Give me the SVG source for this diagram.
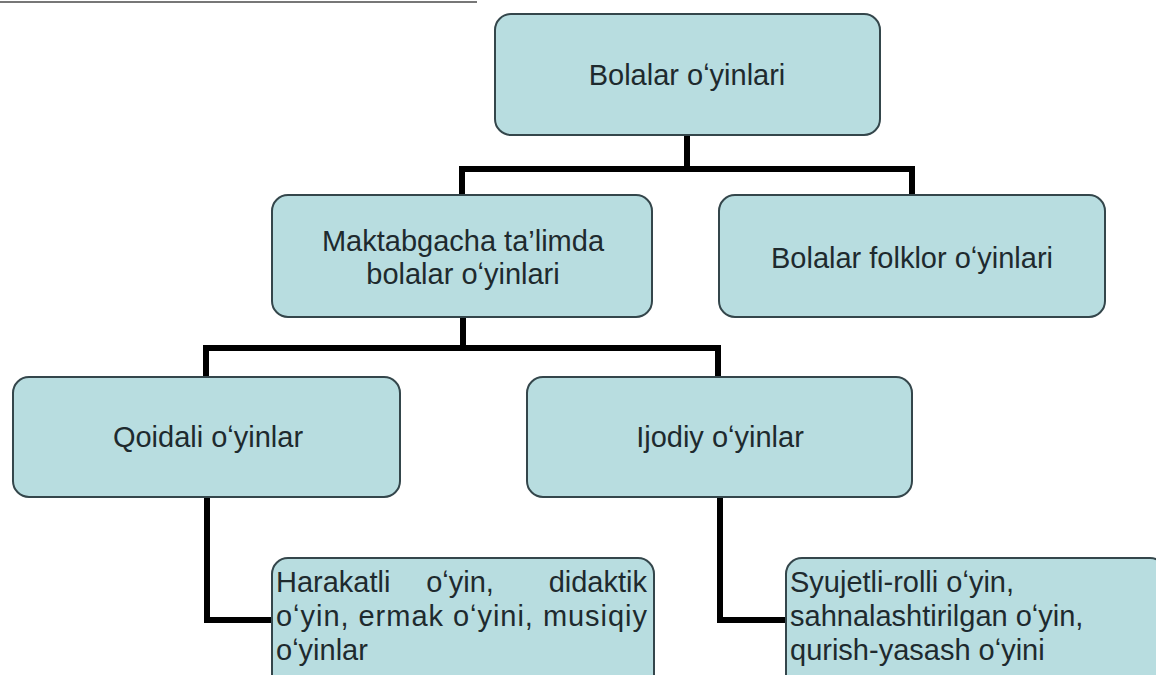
<svg xmlns="http://www.w3.org/2000/svg" width="1156" height="675" viewBox="0 0 1156 675">
<style>
.box{fill:#b8dde0;stroke:#34464b;stroke-width:2}
.t{font-family:"Liberation Sans",Arial,sans-serif;font-size:29px;fill:#1e2a2e}
.c{text-anchor:middle}
.conn{fill:none;stroke:#000;stroke-width:6;stroke-linejoin:miter}
</style>
<rect width="1156" height="675" fill="#fff"/>
<line x1="0" y1="2" x2="477" y2="2" stroke="#777" stroke-width="2"/>
<g id="connectors">
<path class="conn" d="M687 135V169M462 195V169H912V195"/>
<path class="conn" d="M463 317V348M206 377V348H718V377"/>
<path class="conn" d="M207 497V620H272"/>
<path class="conn" d="M720 497V620H786"/>
</g>
<g id="n1">
<rect class="box" x="495" y="14" width="385" height="121" rx="16"/>
<text class="t c" x="687" y="85">Bolalar oʻyinlari</text>
</g>
<g id="n2">
<rect class="box" x="272" y="195" width="380" height="122" rx="16"/>
<text class="t c" x="463" y="251">Maktabgacha ta’limda</text>
<text class="t c" x="463" y="284">bolalar oʻyinlari</text>
</g>
<g id="n3">
<rect class="box" x="719" y="195" width="386" height="122" rx="16"/>
<text class="t c" x="912" y="268">Bolalar folklor oʻyinlari</text>
</g>
<g id="n4">
<rect class="box" x="13" y="377" width="387" height="120" rx="16"/>
<text class="t c" x="208" y="447">Qoidali oʻyinlar</text>
</g>
<g id="n5">
<rect class="box" x="527" y="377" width="385" height="120" rx="16"/>
<text class="t c" x="720" y="447">Ijodiy oʻyinlar</text>
</g>
<g id="n6">
<rect class="box" x="272" y="558" width="382" height="140" rx="16"/>
<text class="t" x="276" y="592">Harakatli</text>
<text class="t c" x="460" y="592">oʻyin,</text>
<text class="t" x="647" y="592" text-anchor="end">didaktik</text>
<text class="t" x="276" y="626" textLength="371" lengthAdjust="spacing" xml:space="preserve">oʻyin, ermak oʻyini, musiqiy</text>
<text class="t" x="276" y="660">oʻyinlar</text>
</g>
<g id="n7">
<rect class="box" x="786" y="558" width="380" height="140" rx="16"/>
<text class="t" x="790" y="592">Syujetli-rolli oʻyin,</text>
<text class="t" x="790" y="626">sahnalashtirilgan oʻyin,</text>
<text class="t" x="790" y="660">qurish-yasash oʻyini</text>
</g>
</svg>
